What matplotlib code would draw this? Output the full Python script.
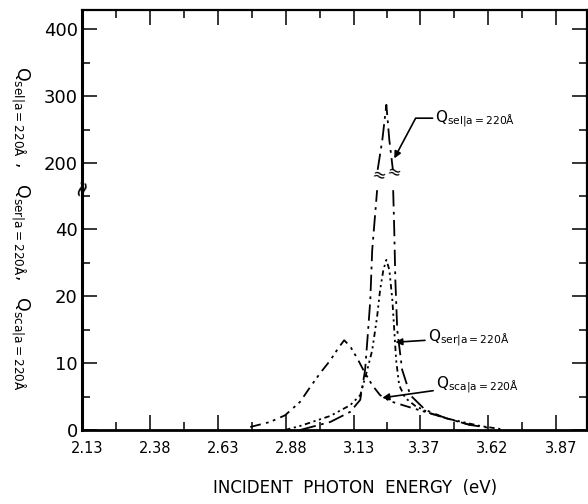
import numpy as np
import matplotlib
matplotlib.use("Agg")
import matplotlib.pyplot as plt
from matplotlib.transforms import ScaledTranslation, blended_transform_factory

# ---------------- data ----------------
x_ticks = [2.13, 2.38, 2.63, 2.88, 3.13, 3.37, 3.62, 3.87]
x_tick_labels = ["2.13", "2.38", "2.63", "2.88", "3.13", "3.37", "3.62", "3.87"]
x_minor = [2.255, 2.505, 2.755, 3.005, 3.25, 3.495, 3.745]
y_ticks = [0, 10, 20, 40, 200, 300, 400]
y_tick_labels = ["0", "10", "20", "40", "200", "300", "400"]
y_minor = [5, 15, 30, 50, 250, 350]

# Q_sel (sharp peak, drawn across the axis break)
sel_left_x = [2.931, 3.042, 3.115, 3.152, 3.170, 3.181, 3.189, 3.196, 3.214]
sel_left_y = [0.0, 1.2, 2.7, 4.5, 9.0, 14.9, 19.4, 33.7, 51.6]
sel_top_x = [3.216, 3.233, 3.248, 3.259, 3.272]
sel_top_y = [190, 234, 287, 234, 190]
sel_right_x = [3.273, 3.277, 3.281, 3.288, 3.306, 3.336, 3.391, 3.464, 3.556, 3.630]
sel_right_y = [51.6, 39.7, 24.8, 14.9, 9.0, 5.2, 3.0, 1.8, 0.75, 0.3]

# Q_ser
ser_x = [2.876, 2.931, 3.042, 3.115, 3.152, 3.178, 3.196, 3.214, 3.225, 3.237,
         3.248, 3.259, 3.270, 3.277, 3.284, 3.295, 3.317, 3.354, 3.409, 3.483,
         3.593, 3.667]
ser_y = [0.0, 0.6, 2.1, 3.7, 5.2, 9.0, 11.9, 16.9, 21.8, 27.8,
         30.8, 27.8, 19.4, 14.9, 10.4, 6.7, 4.8, 3.6, 2.5, 1.6,
         0.6, 0.15]

# Q_sca
sca_x = [2.748, 2.821, 2.876, 2.931, 2.968, 3.005, 3.042, 3.071, 3.093, 3.115,
         3.141, 3.167, 3.196, 3.225, 3.262, 3.317, 3.391, 3.464, 3.556]
sca_y = [0.45, 1.2, 2.2, 4.2, 6.4, 8.5, 10.4, 12.2, 13.4, 12.5,
         10.7, 8.7, 6.7, 5.2, 4.3, 3.6, 2.7, 1.8, 0.75]

# ---------------- broken (piecewise) y scale ----------------
_val = np.array([0.0, 20.0, 52.0, 167.0, 2000.0])
_pos = np.array([0.0, 20.0, 36.0, 36.55, 39.85 + 180.0])


def fwd(v):
    return np.interp(np.asarray(v, dtype=float), _val, _pos)


def inv(p):
    return np.interp(np.asarray(p, dtype=float), _pos, _val)


plt.rcParams['mathtext.fontset'] = 'dejavusans'
plt.rcParams['font.family'] = ['DejaVu Sans']

fig = plt.figure(figsize=(5.88, 5.04), dpi=100)
ax = fig.add_axes([82 / 588, 1 - 430 / 504, (587 - 82) / 588, (430 - 10) / 504])
ax.set_yscale('function', functions=(fwd, inv))

lw = 1.3
sel_style = dict(color='black', lw=lw, dashes=(9, 3, 1.5, 3))
ser_style = dict(color='black', lw=lw, dashes=(3, 2, 1.2, 2, 1.2, 2))
sca_style = dict(color='black', lw=lw, dashes=(6, 3, 1.5, 2.5, 1.5, 3))

ax.plot(sel_left_x, sel_left_y, **sel_style)
ax.plot(sel_top_x, sel_top_y, **sel_style)
ax.plot(sel_right_x, sel_right_y, **sel_style)
ax.plot(ser_x, ser_y, **ser_style)
ax.plot(sca_x, sca_y, **sca_style)

ax.set_xlim(2.13, 3.985)
ax.set_ylim(0, 428.5)

ax.set_xticks(x_ticks)
ax.set_xticklabels(x_tick_labels, fontsize=10.5)
ax.set_xticks(x_minor, minor=True)
ax.set_yticks(y_ticks)
ax.set_yticklabels(y_tick_labels, fontsize=13)
ax.set_yticks(y_minor, minor=True)

ax.tick_params(which='both', direction='in', top=True, right=True, width=1.1)
ax.tick_params(which='major', length=11)
ax.tick_params(which='minor', length=6)
ax.tick_params(axis='x', which='major', pad=8)
ax.tick_params(axis='y', which='major', pad=3)
for lab in ax.get_xticklabels():
    lab.set_transform(lab.get_transform() + ScaledTranslation(5 / 100, 0, fig.dpi_scale_trans))

for s in ax.spines.values():
    s.set_linewidth(1.6)
ax.spines['left'].set_linewidth(2.2)
ax.spines['bottom'].set_linewidth(2.0)

# axis break mark on the left spine
bt = blended_transform_factory(ax.transAxes, ax.transData)
ax.text(0.0, 100, "≈", transform=bt, ha='center', va='center', fontsize=16,
        rotation=75)

# break marks on the curve
ax.text(3.218, 181, "≈", ha='center', va='center', fontsize=12, rotation=-15)
ax.text(3.273, 186, "≈", ha='center', va='center', fontsize=12, rotation=-15)

# annotations
arrow = dict(arrowstyle='-|>', color='black', lw=1.2, mutation_scale=10,
             shrinkA=0, shrinkB=0)
ax.annotate(r"Q$_{\mathregular{sel|a=220Å}}$", xy=(3.277, 207), xytext=(3.428, 267),
            fontsize=11, va='center', ha='left',
            arrowprops=dict(arrow, connectionstyle="angle,angleA=0,angleB=62,rad=0"))
ax.annotate(r"Q$_{\mathregular{ser|a=220Å}}$", xy=(3.281, 13.1), xytext=(3.40, 13.8),
            fontsize=11, va='center', ha='left', arrowprops=arrow)
ax.annotate(r"Q$_{\mathregular{sca|a=220Å}}$", xy=(3.233, 4.8), xytext=(3.43, 6.8),
            fontsize=11, va='center', ha='left', arrowprops=arrow)

fig.text(355 / 588, 1 - 488 / 504, "INCIDENT  PHOTON  ENERGY  (eV)", ha='center',
         va='center', fontsize=12)
fig.text(20 / 588, 1 - 228 / 504,
         r"Q$_{\mathregular{sel|a=220Å}}$ ,   Q$_{\mathregular{ser|a=220Å}}$,   Q$_{\mathregular{sca|a=220Å}}$",
         rotation=270, ha='center', va='center', fontsize=12.5)

fig.savefig("out.png", dpi=100)
